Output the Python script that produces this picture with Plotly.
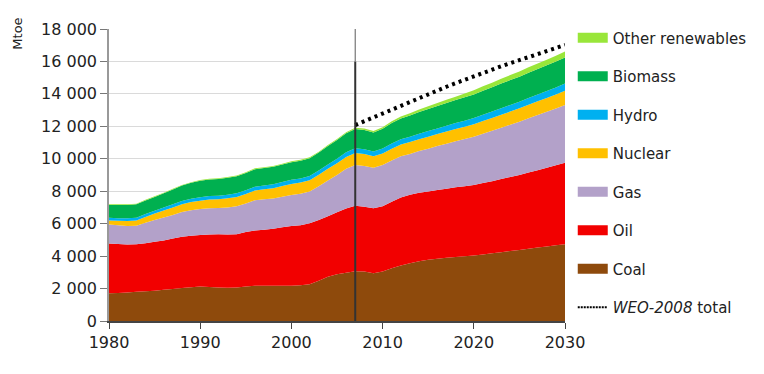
import plotly.graph_objects as go

years = list(range(1980, 2031))
base_year = 2007

coal = [1710,1720,1750,1800,1840,1870,1920,1980,2040,2080,2120,2100,2060,2050,2060,2120,2170,2180,2170,2170,
        2180,2200,2270,2480,2730,2880,2980,3070,3050,2950,3050,3250,3420,3560,3680,3780,3840,3900,3950,3990,
        4030,4100,4170,4240,4310,4380,4450,4530,4600,4670,4730]
oil = [3070,3020,2970,2930,2960,3010,3050,3100,3160,3180,3180,3230,3280,3280,3290,3360,3410,3440,3510,3610,
       3680,3700,3750,3740,3720,3820,3950,4030,4000,4000,4030,4100,4200,4220,4220,4200,4230,4260,4290,4320,
       4350,4400,4450,4510,4570,4620,4700,4770,4850,4930,5030]
gas = [1170,1160,1140,1140,1250,1340,1410,1460,1520,1570,1600,1620,1620,1670,1730,1770,1870,1880,1870,1880,
       1910,1950,1960,2080,2210,2300,2450,2520,2510,2500,2540,2550,2530,2520,2580,2640,2710,2770,2840,2910,
       2980,3050,3110,3170,3220,3290,3350,3400,3450,3500,3560]
nuclear = [250,280,300,320,360,400,430,460,480,500,520,540,550,560,570,580,600,620,640,660,
           680,690,700,710,720,720,730,740,730,700,710,720,730,730,730,740,740,750,750,760,
           770,780,790,800,810,820,830,840,850,860,870]
hydro = [160,160,170,170,180,180,190,190,200,200,210,210,210,220,220,230,230,240,240,250,
         250,250,260,260,270,280,290,290,300,300,310,320,320,330,340,350,350,360,370,370,
         380,390,390,400,410,410,420,430,430,440,450]
biomass = [790,810,820,830,840,850,870,920,950,990,1020,1030,1040,1050,1060,1070,1080,1070,1080,1070,
           1090,1090,1100,1110,1130,1150,1170,1190,1190,1170,1210,1260,1290,1310,1330,1360,1390,1400,1420,1440,
           1460,1480,1500,1520,1530,1540,1560,1570,1580,1590,1600]
other = [40,40,40,40,40,40,40,40,40,40,40,45,45,45,45,45,50,50,50,50,
         55,55,60,60,65,70,70,80,85,90,100,110,120,135,150,165,180,195,210,230,
         250,265,280,295,310,320,330,340,350,360,370]

weo_years = list(range(2007, 2031))
weo2008_total = [12080,12320,12570,12820,13060,13290,13520,13750,13980,14210,14440,14660,14880,15100,
                 15300,15500,15700,15890,16090,16280,16470,16650,16830,17020]

series = [
    ("Coal", coal, "#8E4A0C", 7),
    ("Oil", oil, "#F20000", 6),
    ("Gas", gas, "#B3A1C9", 5),
    ("Nuclear", nuclear, "#FFC000", 4),
    ("Hydro", hydro, "#00B0F0", 3),
    ("Biomass", biomass, "#00B050", 2),
    ("Other renewables", other, "#99E63A", 1),
]

y_ticks = list(range(0, 18001, 2000))
x_ticks = list(range(1980, 2031, 10))

FONT = "DejaVu Sans"

fig = go.Figure()
for name, vals, color, rank in series:
    fig.add_trace(go.Scatter(
        x=years, y=vals, name=name, stackgroup="one", mode="none",
        fillcolor=color, showlegend=False, hoverinfo="x+y+name",
    ))

fig.add_trace(go.Scatter(
    x=weo_years, y=weo2008_total, name="<i>WEO-2008</i> total", mode="lines",
    line=dict(color="black", width=4, dash="3px,4px"), showlegend=False,
))

# legend entries
for name, vals, color, rank in series:
    fig.add_trace(go.Scatter(
        x=[None], y=[None], name=name, mode="lines",
        line=dict(color=color, width=13), legendrank=rank, legendgroup=name,
    ))
fig.add_trace(go.Scatter(
    x=[None], y=[None], name="<i>WEO-2008</i> total", mode="lines",
    line=dict(color="black", width=2, dash="2px,1px"), legendrank=8, legendgroup="weo",
))

# 2007 marker line (lighter above 16 000, darker below)
fig.add_shape(type="line", x0=base_year, x1=base_year, y0=0, y1=16000, xref="x", yref="y",
              line=dict(color="#333333", width=2))
fig.add_shape(type="line", x0=base_year, x1=base_year, y0=16000, y1=18000, xref="x", yref="y",
              line=dict(color="#777777", width=1.2))

fig.add_annotation(text="Mtoe", x=-0.20, y=1.045, xref="paper", yref="paper",
                   textangle=-90, showarrow=False, xanchor="center", yanchor="top",
                   font=dict(size=13, color="#222", family=FONT))

fig.update_layout(
    width=756, height=366,
    margin=dict(l=101, r=199, t=21, b=53),
    paper_bgcolor="white", plot_bgcolor="white",
    separators=". ",
    font=dict(family=FONT, color="#222"),
    showlegend=True,
    legend=dict(x=1.017, y=1.026, xanchor="left", yanchor="top",
                font=dict(size=15, family=FONT, color="#222"),
                traceorder="grouped", tracegroupgap=16, itemwidth=30,
                maxheight=400, bgcolor="rgba(0,0,0,0)"),
    xaxis=dict(range=[1980, 2030], tickvals=x_ticks, ticks="outside", ticklen=6,
               tickcolor="#444", showgrid=False, showline=True, linecolor="#444",
               linewidth=1.5, tickfont=dict(size=16, family=FONT, color="#222"),
               zeroline=False),
    yaxis=dict(range=[0, 18000], tickvals=y_ticks, tickformat=",d", ticks="outside",
               ticklen=7, tickcolor="#777", showgrid=True, gridcolor="#DADADA",
               gridwidth=1, showline=True, linecolor="#999", linewidth=1.5,
               tickfont=dict(size=16, family=FONT, color="#222"), zeroline=False),
)

fig.write_html("out.html")
